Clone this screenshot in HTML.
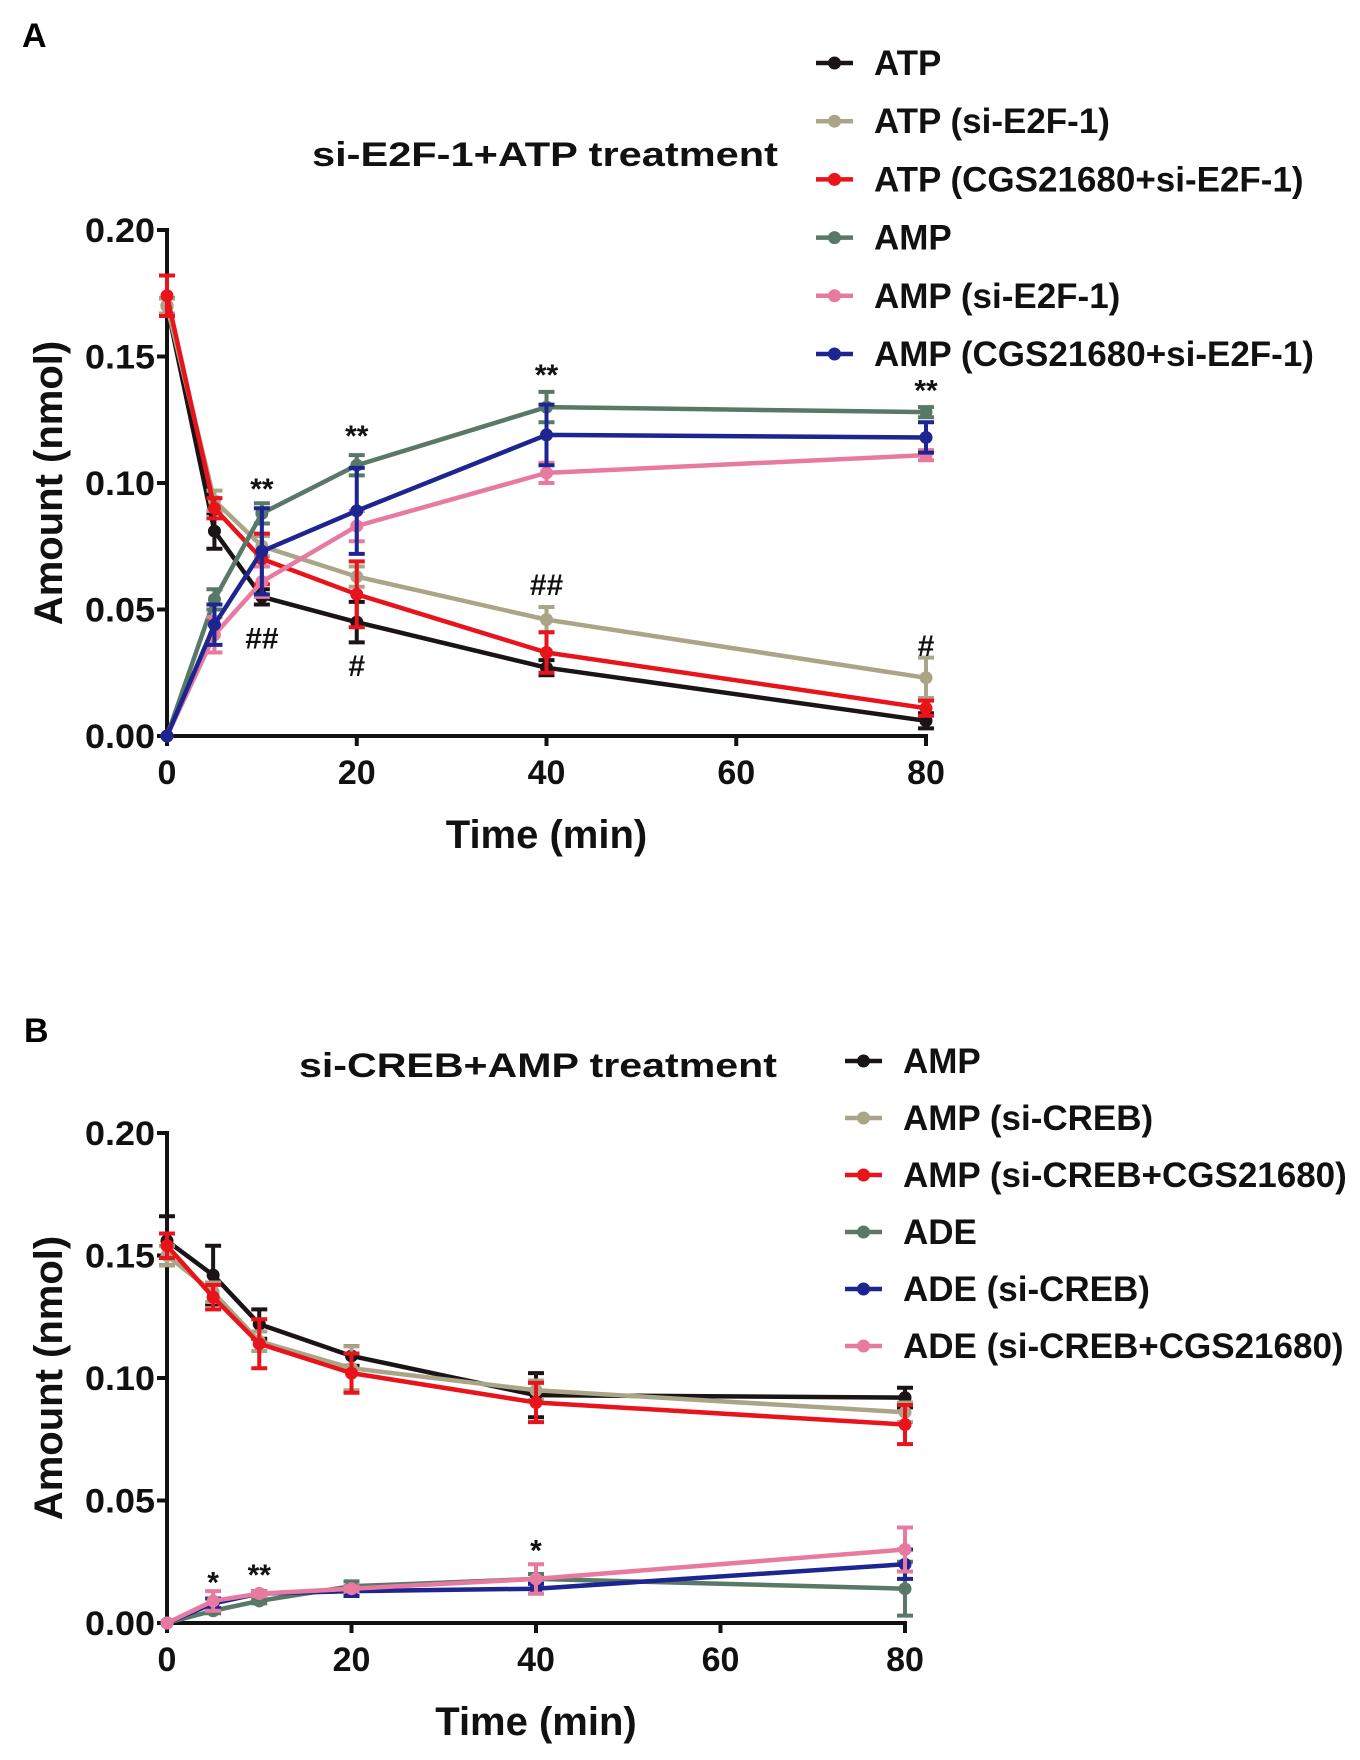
<!DOCTYPE html>
<html><head><meta charset="utf-8">
<style>
html,body{margin:0;padding:0;background:#fff;}
svg{display:block;font-family:"Liberation Sans",Arial,sans-serif;font-weight:bold;}
</style></head>
<body>
<svg id="fig" width="1360" height="1760" viewBox="0 0 1360 1760"></svg>
<script>
const xValues = [0, 5, 10, 20, 40, 80];
const xTicks = [0, 20, 40, 60, 80];
const yTicks = [0, 0.05, 0.10, 0.15, 0.20];
const yTickLabels = ["0.00", "0.05", "0.10", "0.15", "0.20"];

const aNames = ["ATP", "ATP (si-E2F-1)", "ATP (CGS21680+si-E2F-1)", "AMP", "AMP (si-E2F-1)", "AMP (CGS21680+si-E2F-1)"];
const aATP = [0.170, 0.081, 0.055, 0.045, 0.027, 0.006];
const aATPerr = [0.003, 0.007, 0.003, 0.008, 0.003, 0.003];
const aATPsi = [0.170, 0.093, 0.075, 0.063, 0.046, 0.023];
const aATPsiErr = [0.003, 0.004, 0.004, 0.004, 0.005, 0.008];
const aATPcgs = [0.174, 0.090, 0.070, 0.056, 0.033, 0.011];
const aATPcgsErr = [0.008, 0.004, 0.010, 0.013, 0.008, 0.003];
const aAMP = [0, 0.054, 0.088, 0.107, 0.130, 0.128];
const aAMPerr = [0, 0.004, 0.004, 0.004, 0.006, 0.002];
const aAMPsi = [0, 0.040, 0.061, 0.083, 0.104, 0.111];
const aAMPsiErr = [0, 0.007, 0.006, 0.006, 0.004, 0.002];
const aAMPcgs = [0, 0.044, 0.073, 0.089, 0.119, 0.118];
const aAMPcgsErr = [0, 0.008, 0.017, 0.017, 0.012, 0.006];
const aMarkX = [10, 10, 20, 20, 40, 40, 80, 80];
const aMarkY = [0.098, 0.039, 0.119, 0.028, 0.143, 0.060, 0.137, 0.036];
const aMarkText = ["**", "##", "**", "#", "**", "##", "**", "#"];

const bNames = ["AMP", "AMP (si-CREB)", "AMP (si-CREB+CGS21680)", "ADE", "ADE (si-CREB)", "ADE (si-CREB+CGS21680)"];
const bAMP = [0.156, 0.142, 0.122, 0.109, 0.093, 0.092];
const bAMPerr = [0.010, 0.012, 0.006, 0.004, 0.009, 0.004];
const bAMPsi = [0.150, 0.135, 0.115, 0.104, 0.095, 0.086];
const bAMPsiErr = [0.004, 0.004, 0.004, 0.009, 0.004, 0.004];
const bAMPcgs = [0.154, 0.133, 0.114, 0.102, 0.090, 0.081];
const bAMPcgsErr = [0.005, 0.005, 0.010, 0.008, 0.008, 0.008];
const bADE = [0, 0.005, 0.009, 0.015, 0.018, 0.014];
const bADEerr = [0, 0.001, 0.001, 0.002, 0.002, 0.011];
const bADEsi = [0, 0.008, 0.012, 0.013, 0.014, 0.024];
const bADEsiErr = [0, 0.002, 0.001, 0.002, 0.002, 0.006];
const bADEcgs = [0, 0.009, 0.012, 0.014, 0.018, 0.030];
const bADEcgsErr = [0, 0.004, 0.001, 0.001, 0.006, 0.009];
const bMarkX = [5, 10, 40];
const bMarkY = [0.017, 0.020, 0.030];
const bMarkText = ["*", "**", "*"];

const colorsA = ["#1a1416", "#aaa586", "#e8131b", "#587868", "#e87aa0", "#1c2590"];
const colorsB = ["#1a1416", "#aaa586", "#e8131b", "#587868", "#1c2590", "#e87aa0"];

const NS = "http://www.w3.org/2000/svg";
const svg = document.getElementById("fig");
function mk(tag, attrs, parent, text) {
  const e = document.createElementNS(NS, tag);
  for (const k in attrs) e.setAttribute(k, attrs[k]);
  if (text !== undefined) e.textContent = text;
  (parent || svg).appendChild(e);
  return e;
}

function drawPanel(cfg) {
  const colors = cfg.colors;
  const g = mk("g", {});
  
  
  const sx = v => cfg.x0 + (v / 80) * (cfg.x1 - cfg.x0);
  const sy = v => cfg.y0 + (v / 0.20) * (cfg.y1 - cfg.y0);

  const lab = mk("text", {x: cfg.labX, y: cfg.labY, "font-size": 34, fill: "#000"}, g, cfg.label);
  
  
  const ti = mk("text", {x: cfg.titleX, y: cfg.titleY, "font-size": 34, fill: "#111", textLength: cfg.titleW, lengthAdjust: "spacingAndGlyphs"}, g, cfg.title);
  
  

  const ax = mk("g", {}, g);
  
  
  mk("line", {x1: cfg.x0, y1: sy(0.2) - 2, x2: cfg.x0, y2: cfg.y0 + 2, stroke: "#111", "stroke-width": 4}, ax);
  mk("line", {x1: cfg.x0 - 2, y1: cfg.y0, x2: cfg.x1 + 2, y2: cfg.y0, stroke: "#111", "stroke-width": 4}, ax);
  yTicks.forEach((t, i) => {
    const y = sy(t);
    mk("line", {x1: cfg.x0 - 10, y1: y, x2: cfg.x0, y2: y, stroke: "#111", "stroke-width": 4}, ax);
    const tl = mk("text", {x: cfg.x0 - 12, y: y + 12, "font-size": 34, "text-anchor": "end", fill: "#111", textLength: 70, lengthAdjust: "spacingAndGlyphs"}, ax, yTickLabels[i]);
    
    
  });
  xTicks.forEach(t => {
    const x = sx(t);
    mk("line", {x1: x, y1: cfg.y0, x2: x, y2: cfg.y0 + 10, stroke: "#111", "stroke-width": 4}, ax);
    const tl = mk("text", {x: x, y: cfg.y0 + 48, "font-size": 34, "text-anchor": "middle", fill: "#111"}, ax, String(t));
    
    
  });
  const yt = mk("text", {x: 0, y: 0, "font-size": 40, "text-anchor": "middle", fill: "#111", transform: `translate(${cfg.x0 - 105},${(sy(0.2) + cfg.y0) / 2}) rotate(-90)`}, ax, "Amount (nmol)");
  
  
  const xt = mk("text", {x: (cfg.x0 + cfg.x1) / 2, y: cfg.y0 + 112, "font-size": 40, "text-anchor": "middle", fill: "#111"}, ax, "Time (min)");
  
  

  cfg.series.forEach((vals, si) => {
    const errs = cfg.errs[si];
    const sg = mk("g", {}, g);
    
    
    const c = colors[si];
    const pts = xValues.map((xv, i) => sx(xv) + "," + sy(vals[i])).join(" ");
    const pl = mk("polyline", {points: pts, fill: "none", stroke: c, "stroke-width": 4.5, "stroke-linejoin": "round"}, sg);
    
    
    xValues.forEach((xv, i) => {
      const x = sx(xv), y = sy(vals[i]);
      if (errs[i] > 0) {
        const yt2 = sy(vals[i] + errs[i]), yb = sy(vals[i] - errs[i]);
        const eb = mk("path", {d: `M${x},${yt2}V${yb}M${x - 8},${yt2}H${x + 8}M${x - 8},${yb}H${x + 8}`, stroke: c, "stroke-width": 4, fill: "none"}, sg);
        
        
      }
      const pt = mk("circle", {cx: x, cy: y, r: 6.5, fill: c}, sg);
      
      
    });
  });

  cfg.markX.forEach((mx, i) => {
    const t = mk("text", {x: sx(mx), y: sy(cfg.markY[i]) + 11, "font-size": 30, "text-anchor": "middle", fill: "#111"}, g, cfg.markText[i]);
    
    
  });

  const lg = mk("g", {}, g);
  
  
  cfg.names.forEach((n, i) => {
    const y = cfg.legY + i * cfg.legDy;
    const e = mk("g", {}, lg);
    
    
    mk("line", {x1: cfg.legX, y1: y, x2: cfg.legX + 37, y2: y, stroke: colors[i], "stroke-width": 4.5}, e);
    mk("circle", {cx: cfg.legX + 18.5, cy: y, r: 6.5, fill: colors[i]}, e);
    mk("text", {x: cfg.legX + 58, y: y + 12, "font-size": 35, fill: "#111"}, e, n);
  });
}

drawPanel({
  id: "panel-a", label: "A", labX: 22, labY: 47, colors: colorsA,
  title: "si-E2F-1+ATP treatment", titleX: 312, titleY: 166, titleW: 466,
  x0: 167, x1: 926, y0: 736, y1: 230,
  series: [aATP, aATPsi, aATPcgs, aAMP, aAMPsi, aAMPcgs],
  errs: [aATPerr, aATPsiErr, aATPcgsErr, aAMPerr, aAMPsiErr, aAMPcgsErr],
  names: aNames, markX: aMarkX, markY: aMarkY, markText: aMarkText,
  legX: 816, legY: 63, legDy: 58.2
});
drawPanel({
  id: "panel-b", label: "B", labX: 24, labY: 1042, colors: colorsB,
  title: "si-CREB+AMP treatment", titleX: 299, titleY: 1077, titleW: 478,
  x0: 167, x1: 905, y0: 1623, y1: 1133,
  series: [bAMP, bAMPsi, bAMPcgs, bADE, bADEsi, bADEcgs],
  errs: [bAMPerr, bAMPsiErr, bAMPcgsErr, bADEerr, bADEsiErr, bADEcgsErr],
  names: bNames, markX: bMarkX, markY: bMarkY, markText: bMarkText,
  legX: 845, legY: 1061, legDy: 57
});
</script>
</body></html>
